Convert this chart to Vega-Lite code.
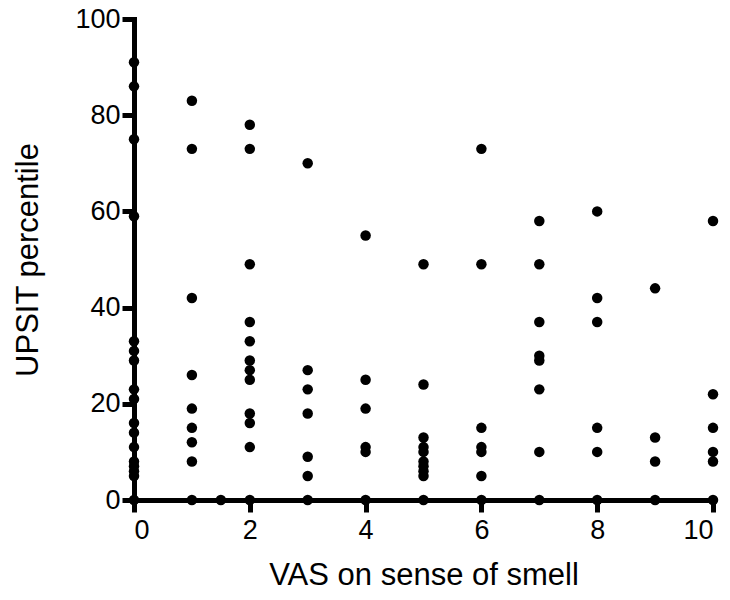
{
  "$schema": "https://vega.github.io/schema/vega-lite/v6.json",
  "autosize": {"type": "none"},
  "padding": {"left": 134, "top": 19, "right": 16, "bottom": 100},
  "width": 579,
  "height": 481,
  "background": "white",
  "config": {
    "view": {"stroke": null},
    "font": "Liberation Sans"
  },
  "data": {
    "values": [
      {"vas": 0, "upsit": 91}, {"vas": 0, "upsit": 86}, {"vas": 0, "upsit": 75}, {"vas": 0, "upsit": 59},
      {"vas": 0, "upsit": 33}, {"vas": 0, "upsit": 31}, {"vas": 0, "upsit": 29}, {"vas": 0, "upsit": 23},
      {"vas": 0, "upsit": 21}, {"vas": 0, "upsit": 16}, {"vas": 0, "upsit": 14}, {"vas": 0, "upsit": 11},
      {"vas": 0, "upsit": 8}, {"vas": 0, "upsit": 7}, {"vas": 0, "upsit": 6}, {"vas": 0, "upsit": 5},
      {"vas": 0, "upsit": 0},
      {"vas": 1, "upsit": 83}, {"vas": 1, "upsit": 73}, {"vas": 1, "upsit": 42}, {"vas": 1, "upsit": 26},
      {"vas": 1, "upsit": 19}, {"vas": 1, "upsit": 15}, {"vas": 1, "upsit": 12}, {"vas": 1, "upsit": 8},
      {"vas": 1, "upsit": 0},
      {"vas": 1.5, "upsit": 0},
      {"vas": 2, "upsit": 78}, {"vas": 2, "upsit": 73}, {"vas": 2, "upsit": 49}, {"vas": 2, "upsit": 37},
      {"vas": 2, "upsit": 33}, {"vas": 2, "upsit": 29}, {"vas": 2, "upsit": 27}, {"vas": 2, "upsit": 25},
      {"vas": 2, "upsit": 18}, {"vas": 2, "upsit": 16}, {"vas": 2, "upsit": 11}, {"vas": 2, "upsit": 0},
      {"vas": 3, "upsit": 70}, {"vas": 3, "upsit": 27}, {"vas": 3, "upsit": 23}, {"vas": 3, "upsit": 18},
      {"vas": 3, "upsit": 9}, {"vas": 3, "upsit": 5}, {"vas": 3, "upsit": 0},
      {"vas": 4, "upsit": 55}, {"vas": 4, "upsit": 25}, {"vas": 4, "upsit": 19}, {"vas": 4, "upsit": 11},
      {"vas": 4, "upsit": 10}, {"vas": 4, "upsit": 0},
      {"vas": 5, "upsit": 49}, {"vas": 5, "upsit": 24}, {"vas": 5, "upsit": 13}, {"vas": 5, "upsit": 11},
      {"vas": 5, "upsit": 10}, {"vas": 5, "upsit": 8}, {"vas": 5, "upsit": 7}, {"vas": 5, "upsit": 6},
      {"vas": 5, "upsit": 5}, {"vas": 5, "upsit": 0},
      {"vas": 6, "upsit": 73}, {"vas": 6, "upsit": 49}, {"vas": 6, "upsit": 15}, {"vas": 6, "upsit": 11},
      {"vas": 6, "upsit": 10}, {"vas": 6, "upsit": 5}, {"vas": 6, "upsit": 0},
      {"vas": 7, "upsit": 58}, {"vas": 7, "upsit": 49}, {"vas": 7, "upsit": 37}, {"vas": 7, "upsit": 30},
      {"vas": 7, "upsit": 29}, {"vas": 7, "upsit": 23}, {"vas": 7, "upsit": 10}, {"vas": 7, "upsit": 0},
      {"vas": 8, "upsit": 60}, {"vas": 8, "upsit": 42}, {"vas": 8, "upsit": 37}, {"vas": 8, "upsit": 15},
      {"vas": 8, "upsit": 10}, {"vas": 8, "upsit": 0},
      {"vas": 9, "upsit": 44}, {"vas": 9, "upsit": 13}, {"vas": 9, "upsit": 8}, {"vas": 9, "upsit": 0},
      {"vas": 10, "upsit": 58}, {"vas": 10, "upsit": 22}, {"vas": 10, "upsit": 15}, {"vas": 10, "upsit": 10},
      {"vas": 10, "upsit": 8}, {"vas": 10, "upsit": 0}
    ]
  },
  "mark": {"type": "circle", "color": "black", "opacity": 1, "size": 110, "clip": false},
  "encoding": {
    "x": {
      "field": "vas", "type": "quantitative",
      "scale": {"domain": [0, 10], "nice": false, "zero": false},
      "axis": {
        "title": "VAS on sense of smell",
        "values": [0, 2, 4, 6, 8, 10],
        "grid": false,
        "domainColor": "black", "domainWidth": 5, "domainCap": "square",
        "tickColor": "black", "tickWidth": 5, "tickSize": 12,
        "labelFont": "Liberation Sans", "labelFontSize": 27, "labelColor": "black", "labelPadding": 5,
        "titleFont": "Liberation Sans", "titleFontSize": 31, "titleFontWeight": "normal", "titleColor": "black", "titlePadding": 17
      }
    },
    "y": {
      "field": "upsit", "type": "quantitative",
      "scale": {"domain": [0, 100], "nice": false},
      "axis": {
        "title": "UPSIT percentile",
        "values": [0, 20, 40, 60, 80, 100],
        "grid": false,
        "domainColor": "black", "domainWidth": 5, "domainCap": "square",
        "tickColor": "black", "tickWidth": 5, "tickSize": 12,
        "labelFont": "Liberation Sans", "labelFontSize": 27, "labelColor": "black", "labelPadding": 2,
        "titleFont": "Liberation Sans", "titleFontSize": 31, "titleFontWeight": "normal", "titleColor": "black", "titlePadding": 30
      }
    }
  }
}
